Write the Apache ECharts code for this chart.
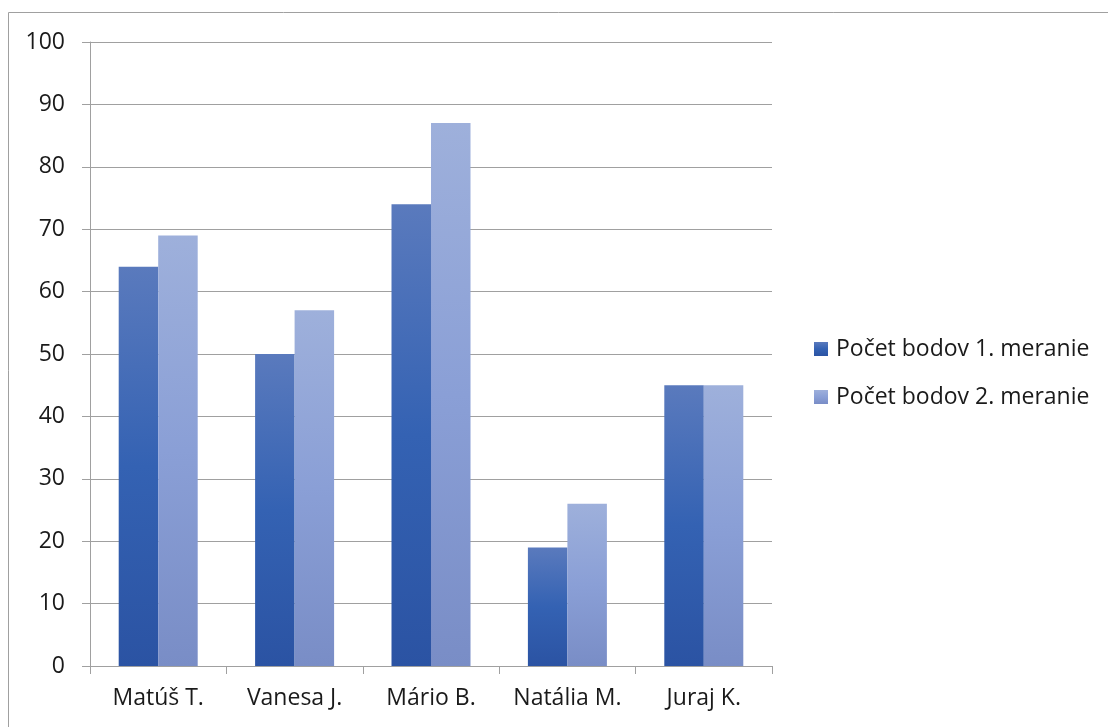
<!DOCTYPE html>
<html>
<head>
<meta charset="utf-8">
<script src="https://cdn.jsdelivr.net/npm/echarts@6/dist/echarts.min.js"></script>
<style>
  html, body { margin: 0; padding: 0; background: #fff; }
  #chart { width: 1108px; height: 727px; }
</style>
</head>
<body>
<div id="chart"></div>
<script>
const categories = ['Matúš T.', 'Vanesa J.', 'Mário B.', 'Natália M.', 'Juraj K.']
const seriesNames = ['Počet bodov 1. meranie', 'Počet bodov 2. meranie']
const meranie1 = [64, 50, 74, 19, 45]
const meranie2 = [69, 57, 87, 26, 45]

const font = 'Open Sans'
const textColor = '#1a1a1a'
const lineColor = '#a0a0a0'

function grad(top, mid, bottom) {
    return new echarts.graphic.LinearGradient(0, 0, 0, 1, [
        {offset: 0, color: top},
        {offset: 0.5, color: mid},
        {offset: 1, color: bottom}
    ])
}

const chart = echarts.init(document.getElementById('chart'))
chart.setOption({
    animation: false,
    textStyle: {fontFamily: font, color: textColor},
    graphic: [{
        type: 'rect',
        shape: {x: 8.5, y: 12.5, width: 1200, height: 800},
        style: {fill: 'none', stroke: lineColor, lineWidth: 1},
        silent: true
    }],
    grid: {left: 90, right: 336, top: 42, bottom: 61},
    legend: {
        orient: 'vertical',
        left: 809,
        top: 330,
        itemWidth: 14,
        itemHeight: 14,
        itemGap: 20,
        icon: 'rect',
        textStyle: {fontFamily: font, fontSize: 23, lineHeight: 28, color: textColor, padding: [0, 0, 0, 3]},
        data: seriesNames
    },
    xAxis: {
        type: 'category',
        data: categories,
        axisLine: {lineStyle: {color: lineColor, width: 1}},
        axisTick: {show: true, length: 8, lineStyle: {color: lineColor}},
        axisLabel: {fontFamily: font, fontSize: 23, color: textColor, margin: 21, interval: 0, hideOverlap: false}
    },
    yAxis: {
        type: 'value',
        min: 0,
        max: 100,
        interval: 10,
        axisLine: {show: true, lineStyle: {color: lineColor, width: 1}},
        axisTick: {show: true, length: 8, lineStyle: {color: lineColor}},
        splitLine: {lineStyle: {color: lineColor, width: 1}},
        axisLabel: {fontFamily: font, fontSize: 23, color: textColor, margin: 25}
    },
    series: [
        {
            name: seriesNames[0],
            type: 'bar',
            data: meranie1,
            barWidth: 39.5,
            barGap: '0%',
            itemStyle: {color: grad('#5a7abd', '#3462b3', '#2b53a3')}
        },
        {
            name: seriesNames[1],
            type: 'bar',
            data: meranie2,
            barWidth: 39.5,
            barGap: '0%',
            itemStyle: {color: grad('#9eb0db', '#8a9fd6', '#798dc6')}
        }
    ]
})
</script>
</body>
</html>
